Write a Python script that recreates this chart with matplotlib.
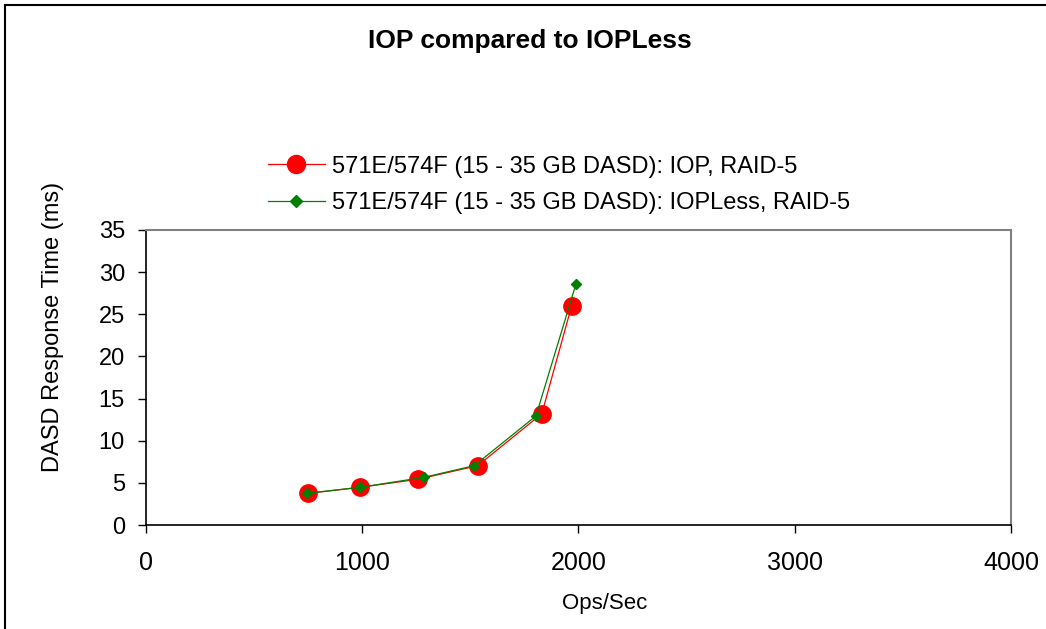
import numpy as np
import matplotlib
matplotlib.use("Agg")
import matplotlib.pyplot as plt
from matplotlib.lines import Line2D

plt.rcParams["font.family"] = ["Liberation Sans", "DejaVu Sans"]

# data
iop_x = [752, 991, 1257, 1535, 1831, 1969]
iop_y = [3.76, 4.47, 5.42, 7.04, 13.2, 26.0]
iopless_x = [744, 991, 1287, 1519, 1804, 1989]
iopless_y = [3.76, 4.47, 5.66, 7.04, 12.93, 28.6]
x_ticks = [0, 1000, 2000, 3000, 4000]
y_ticks = [0, 5, 10, 15, 20, 25, 30, 35]
labels = ["571E/574F (15 - 35 GB DASD): IOP, RAID-5",
          "571E/574F (15 - 35 GB DASD): IOPLess, RAID-5"]

W, H = 1046, 629
fig = plt.figure(figsize=(W / 100, H / 100), dpi=100)
ax = fig.add_axes([145.7 / W, 1 - 525 / H, (1011 - 145.7) / W, (525 - 230) / H])

ax.plot(iop_x, iop_y, color="red", lw=0.9, marker="o", ms=12.5,
        markerfacecolor="red", markeredgecolor="red", zorder=3, clip_on=False)
ax.plot(iopless_x, iopless_y, color="green", lw=0.9, marker="D", ms=5.5,
        markerfacecolor="green", markeredgecolor="green", zorder=4, clip_on=False)

ax.set_xlim(0, 4000)
ax.set_ylim(0, 35)
ax.set_xticks(x_ticks)
ax.set_yticks(y_ticks)
ax.tick_params(axis="both", direction="out", length=6, width=1, colors="black")
ax.tick_params(axis="x", labelsize=18, pad=13)
ax.tick_params(axis="y", labelsize=17, pad=9)
for side in ("top", "right"):
    ax.spines[side].set_color("#808080")
    ax.spines[side].set_linewidth(1.5)
for side in ("left", "bottom"):
    ax.spines[side].set_color("black")
    ax.spines[side].set_linewidth(1.2)

fig.text(605 / W, 1 - 603 / H, "Ops/Sec", ha="center", va="center", fontsize=16)
fig.text(53 / W, 1 - 327 / H, "DASD Response Time (ms)", ha="center", va="center",
         rotation=90, fontsize=17)
fig.text(530 / W, 1 - 41 / H, "IOP compared to IOPLess", ha="center", va="center",
         fontsize=19, fontweight="bold")

handles = [Line2D([], [], color="red", lw=0.9, marker="o", ms=13),
           Line2D([], [], color="green", lw=0.9, marker="D", ms=6)]
fig.legend(handles, labels, loc="center left", bbox_to_anchor=(268 / W, 1 - 185 / H),
           frameon=False, fontsize=17, handlelength=2.4, handletextpad=0.3,
           labelspacing=0.62, borderaxespad=0, borderpad=0)

# outer chart border (cropped on the right and bottom)
fig.add_artist(Line2D([5 / W, 5 / W], [0, 1 - 5 / H], color="black", lw=1.5))
fig.add_artist(Line2D([5 / W, 1], [1 - 5 / H, 1 - 5 / H], color="black", lw=1.5))

fig.savefig("out.png", dpi=100)
